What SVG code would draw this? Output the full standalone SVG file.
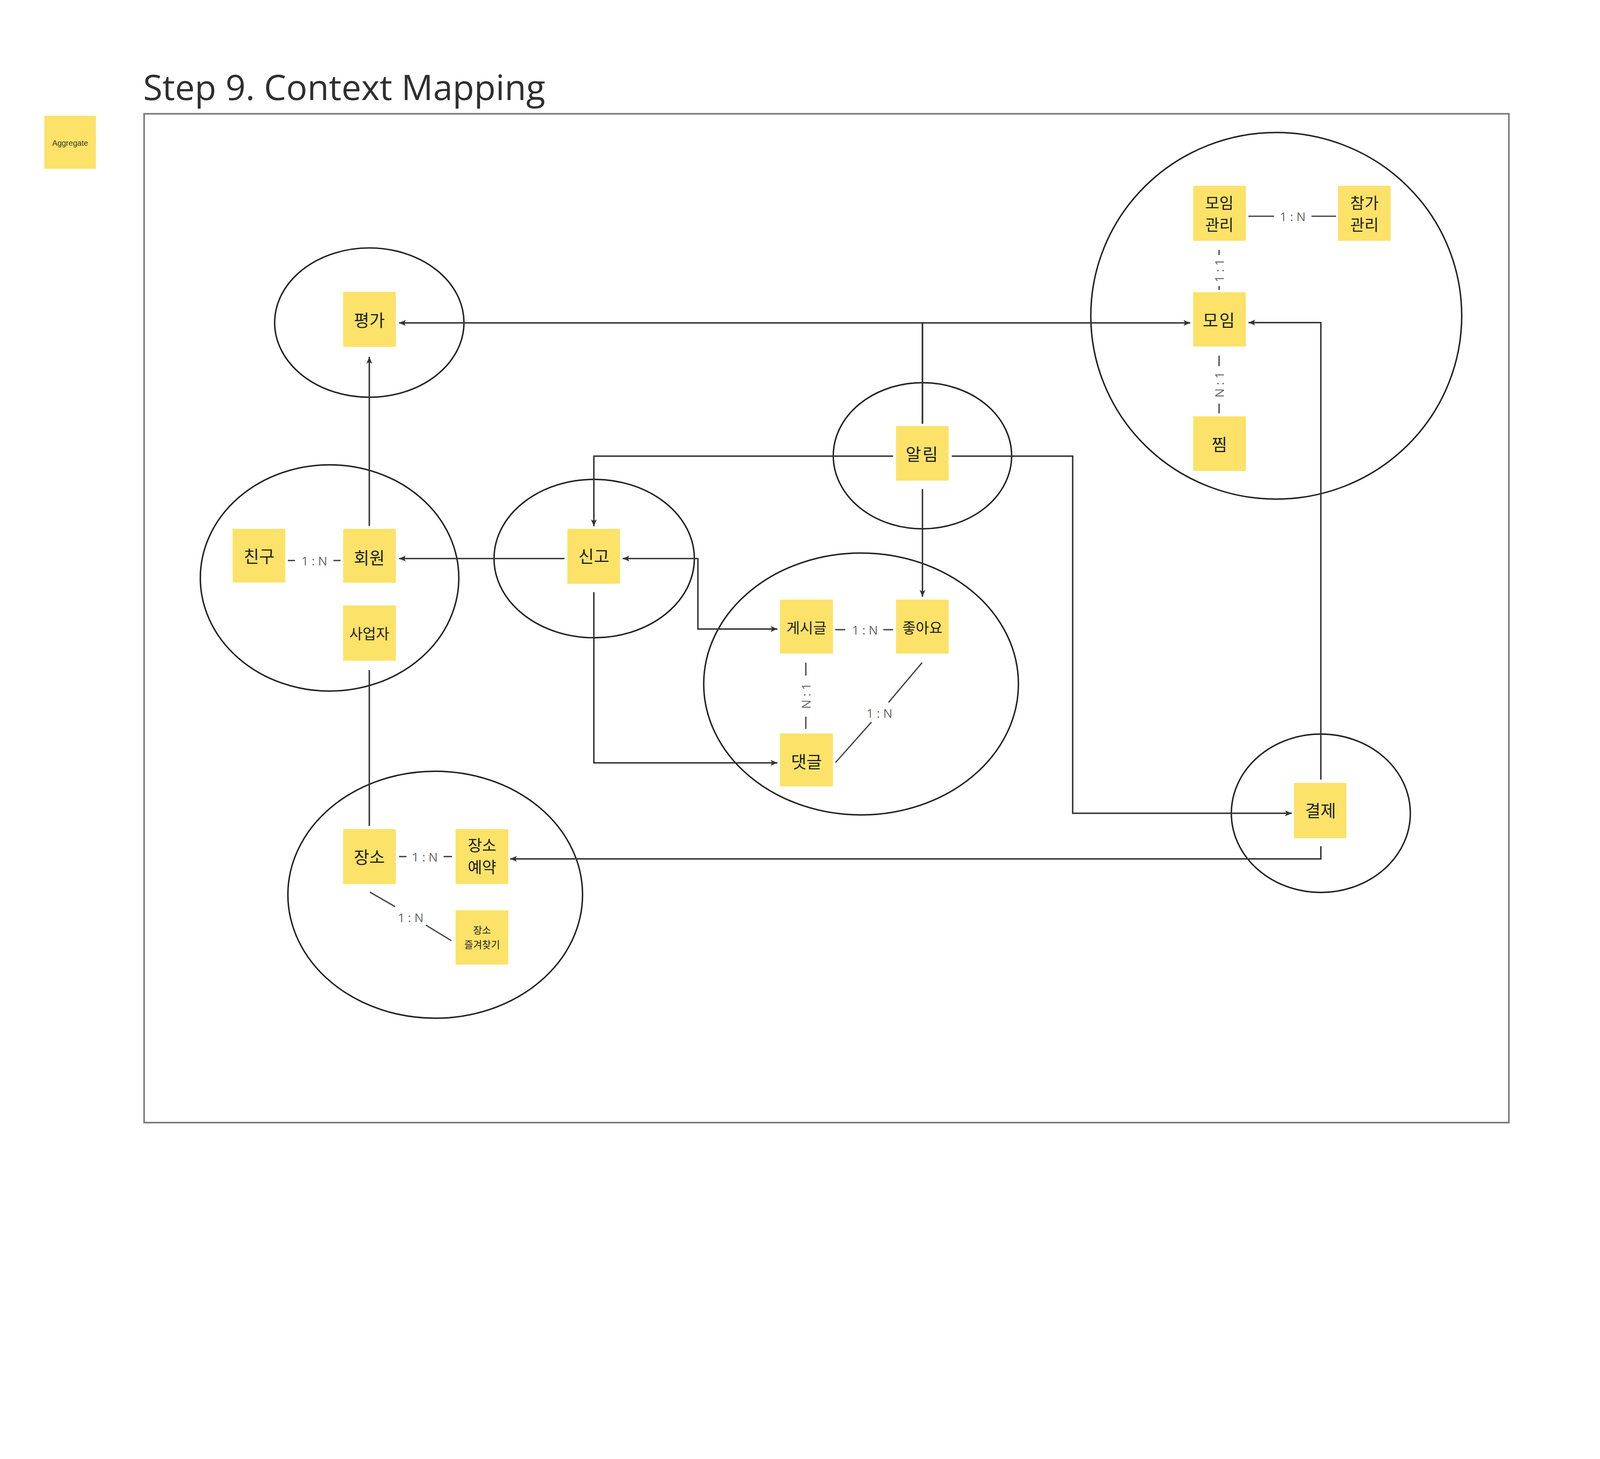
<svg xmlns="http://www.w3.org/2000/svg" width="4952" height="3734" viewBox="0 0 4952 3734" preserveAspectRatio="xMinYMin meet">
<style>
svg{width:100vw;height:75.404vw}
.bg{fill:#ffffff}
.frame{fill:none;stroke:#7c7c7c;stroke-width:5}
.title{font-family:"Open Sans","Noto Sans",sans-serif;font-size:109px;fill:#2f2f2f}
.ctx{fill:none;stroke:#222;stroke-width:4.5}
.sticky{fill:#FCE268}
.t{font-family:"Noto Sans CJK KR","Noto Sans",sans-serif;font-size:52px;fill:#1e1e1e;text-anchor:middle;dominant-baseline:central}
.t3{font-size:45px}
.t2{font-size:48px}
.ts{font-size:30px}
.sp{letter-spacing:4px}
.agg{font-family:"Liberation Sans",Arial,sans-serif;font-size:24px;fill:#3a3a2a;text-anchor:middle;dominant-baseline:central}
.conn{fill:none;stroke:#333;stroke-width:4.5}
.rel{fill:none;stroke:#444;stroke-width:4}
.rl{font-family:"Open Sans","Noto Sans",sans-serif;font-size:38px;fill:#666;text-anchor:middle;dominant-baseline:central}
</style>
<defs>
<marker id="arrow" markerWidth="24" markerHeight="22" refX="21" refY="11" orient="auto-start-reverse" markerUnits="userSpaceOnUse">
<path d="M0,2 L21,11 L0,20 L5,11 z" fill="#333"/>
</marker>
</defs>
<rect class="bg" x="0" y="0" width="4952" height="3734"/>
<text class="title" x="443" y="310">Step 9. Context Mapping</text>
<rect class="frame" x="446" y="352" width="4224" height="3121"/>

<g id="contexts">
<ellipse id="ctx-pyeongga" class="ctx" cx="1143" cy="998" rx="293" ry="231"/>
<ellipse id="ctx-moim" class="ctx" cx="3950" cy="977" rx="574" ry="567"/>
<ellipse id="ctx-allim" class="ctx" cx="2855" cy="1410" rx="276" ry="226"/>
<ellipse id="ctx-hoewon" class="ctx" cx="1020" cy="1788" rx="400" ry="350"/>
<ellipse id="ctx-singo" class="ctx" cx="1839" cy="1728" rx="310" ry="245"/>
<ellipse id="ctx-gesigeul" class="ctx" cx="2665" cy="2116" rx="487" ry="405"/>
<ellipse id="ctx-gyeolje" class="ctx" cx="4088" cy="2516" rx="277" ry="245"/>
<ellipse id="ctx-jangso" class="ctx" cx="1347" cy="2768" rx="456" ry="382"/>
</g>

<g id="connectors">
<path class="conn" d="M2855,1311 V999 H1235" marker-end="url(#arrow)"/>
<path class="conn" d="M2855,1311 V999 H3684" marker-end="url(#arrow)"/>
<path class="conn" d="M1143,1627 V1104" marker-end="url(#arrow)"/>
<path class="conn" d="M2764,1411 H1838 V1628" marker-end="url(#arrow)"/>
<path class="conn" d="M2946,1411 H3320 V2516 H3998" marker-end="url(#arrow)"/>
<path class="conn" d="M2855,1513 V1846" marker-end="url(#arrow)"/>
<path class="conn" d="M1747,1728 H1235" marker-end="url(#arrow)"/>
<path class="conn" d="M1927,1728 H2160 V1946 H2406" marker-start="url(#arrow)" marker-end="url(#arrow)"/>
<path class="conn" d="M1838,1832 V2360 H2406" marker-end="url(#arrow)"/>
<path class="conn" d="M4088,2412 V998 H3864" marker-end="url(#arrow)"/>
<path class="conn" d="M4088,2618 V2657 H1579" marker-end="url(#arrow)"/>
<path class="conn" d="M1143,2073 V2555"/>

<g id="rel-chingu-hoewon">
<path class="rel" d="M891,1734 H913 M1032,1734 H1054"/>
<text class="rl" x="973" y="1734">1 : N</text>
</g>
<g id="rel-moimgwanri-chamga">
<path class="rel" d="M3864,669 H3943 M4059,669 H4135"/>
<text class="rl" x="4001" y="669">1 : N</text>
</g>
<g id="rel-moimgwanri-moim">
<path class="rel" d="M3773,773 V789 M3773,885 V897"/>
<text class="rl" x="3773" y="837" transform="rotate(-90 3773 837)">1 : 1</text>
</g>
<g id="rel-moim-jjim">
<path class="rel" d="M3773,1100 V1133 M3773,1249 V1279"/>
<text class="rl" x="3773" y="1190" transform="rotate(-90 3773 1190)">N : 1</text>
</g>
<g id="rel-gesigeul-joayo">
<path class="rel" d="M2585,1948 H2616 M2734,1948 H2764"/>
<text class="rl" x="2677" y="1948">1 : N</text>
</g>
<g id="rel-gesigeul-daetgeul">
<path class="rel" d="M2494,2050 V2090 M2494,2217 V2255"/>
<text class="rl" x="2494" y="2153" transform="rotate(-90 2494 2153)">N : 1</text>
</g>
<g id="rel-joayo-daetgeul">
<path class="rel" d="M2854,2050 L2750,2173 M2697,2234 L2586,2359"/>
<text class="rl" x="2722" y="2206">1 : N</text>
</g>
<g id="rel-jangso-yeyak">
<path class="rel" d="M1235,2650 H1258 M1373,2650 H1399"/>
<text class="rl" x="1315" y="2650">1 : N</text>
</g>
<g id="rel-jangso-bookmark">
<path class="rel" d="M1145,2760 L1223,2805 M1318,2862 L1397,2910"/>
<text class="rl" x="1271" y="2838">1 : N</text>
</g>
</g>

<g id="n-aggregate">
<rect class="sticky" x="137" y="358" width="160" height="164"/>
<text class="agg" x="217" y="442">Aggregate</text>
</g>
<g id="n-pyeongga">
<rect class="sticky" x="1062" y="903" width="163" height="170"/>
<text class="t" x="1143" y="988">평가</text>
</g>
<g id="n-moimgwanri">
<rect class="sticky" x="3693" y="575" width="163" height="170"/>
<text class="t t2" x="3774" y="624">모임</text>
<text class="t t2" x="3774" y="692">관리</text>
</g>
<g id="n-chamgagwanri">
<rect class="sticky" x="4141" y="575" width="163" height="170"/>
<text class="t t2" x="4223" y="624">참가</text>
<text class="t t2" x="4223" y="692">관리</text>
</g>
<g id="n-moim">
<rect class="sticky" x="3693" y="904" width="163" height="168"/>
<text class="t sp" x="3774" y="988">모임</text>
</g>
<g id="n-jjim">
<rect class="sticky" x="3693" y="1288" width="163" height="169"/>
<text class="t" x="3774" y="1372">찜</text>
</g>
<g id="n-allim">
<rect class="sticky" x="2773" y="1318" width="163" height="169"/>
<text class="t sp" x="2855" y="1402">알림</text>
</g>
<g id="n-chingu">
<rect class="sticky" x="720" y="1636" width="163" height="166"/>
<text class="t" x="802" y="1718">친구</text>
</g>
<g id="n-hoewon">
<rect class="sticky" x="1062" y="1636" width="163" height="167"/>
<text class="t" x="1143" y="1722">회원</text>
</g>
<g id="n-saeopja">
<rect class="sticky" x="1062" y="1873" width="163" height="171"/>
<text class="t t3" x="1143" y="1958">사업자</text>
</g>
<g id="n-singo">
<rect class="sticky" x="1756" y="1636" width="163" height="170"/>
<text class="t" x="1838" y="1718">신고</text>
</g>
<g id="n-gesigeul">
<rect class="sticky" x="2414" y="1855" width="164" height="167"/>
<text class="t t3" x="2496" y="1940">게시글</text>
</g>
<g id="n-joayo">
<rect class="sticky" x="2773" y="1855" width="163" height="167"/>
<text class="t t3" x="2855" y="1940">좋아요</text>
</g>
<g id="n-daetgeul">
<rect class="sticky" x="2414" y="2269" width="164" height="164"/>
<text class="t" x="2496" y="2353">댓글</text>
</g>
<g id="n-gyeolje">
<rect class="sticky" x="4005" y="2422" width="162" height="171"/>
<text class="t" x="4087" y="2505">결제</text>
</g>
<g id="n-jangso">
<rect class="sticky" x="1062" y="2565" width="163" height="170"/>
<text class="t" x="1143" y="2648">장소</text>
</g>
<g id="n-jangsoyeyak">
<rect class="sticky" x="1410" y="2565" width="163" height="170"/>
<text class="t t2" x="1492" y="2612">장소</text>
<text class="t t2" x="1492" y="2679">예약</text>
</g>
<g id="n-jangsobookmark">
<rect class="sticky" x="1410" y="2816" width="163" height="168"/>
<text class="t ts" x="1492" y="2876">장소</text>
<text class="t ts" x="1492" y="2921">즐겨찾기</text>
</g>
</svg>
